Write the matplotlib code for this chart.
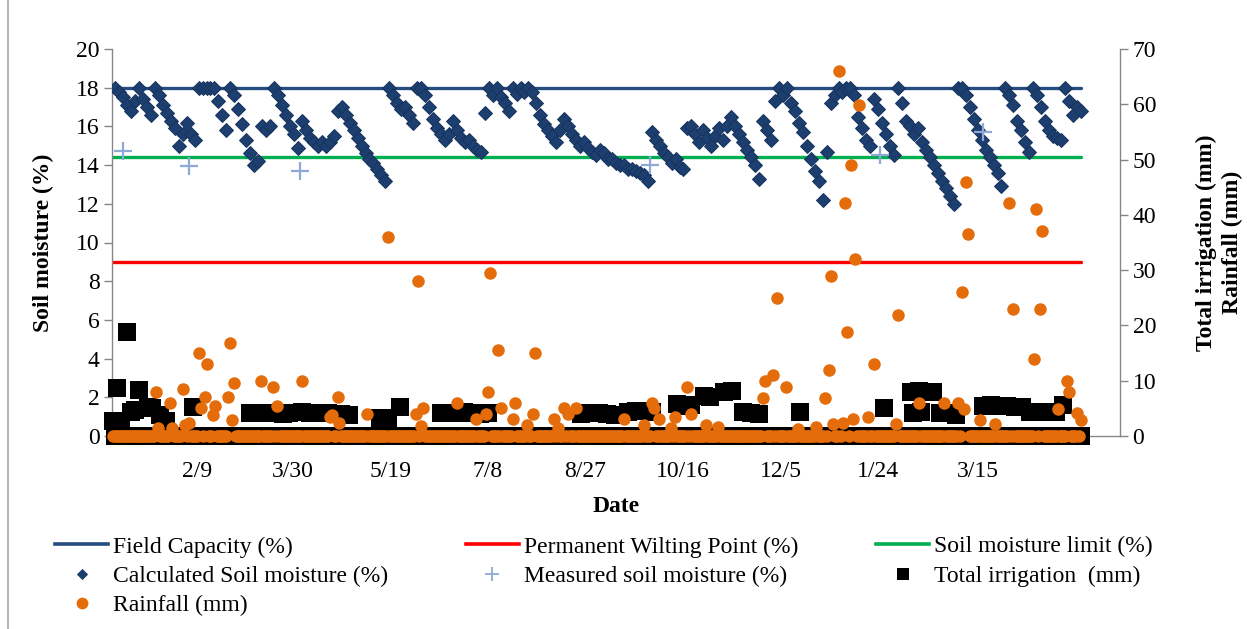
import numpy as np
import pandas as pd
import matplotlib
matplotlib.use("Agg")
import matplotlib.pyplot as plt
from matplotlib.lines import Line2D

plt.rcParams['font.family'] = ['Liberation Serif', 'DejaVu Serif']

# ---------------- data ----------------
sm_start = '2010-12-29'
sm_end = '2012-05-07'
soil_moisture = [
    18.0, 17.8, 17.5, 17.1, 16.8, 17.3, 18.0, 17.4, 17.0, 16.6,
    18.0, 17.6, 17.1, 16.7, 16.3, 15.9, 15.0, 15.6, 16.2, 15.6,
    15.3, 18.0, 18.0, 18.0, 18.0, 18.0, 17.3, 16.6, 15.8, 18.0,
    17.6, 16.9, 16.1, 15.3, 14.6, 14.0, 14.2, 16.0, 15.8, 16.0,
    18.0, 17.6, 17.1, 16.6, 16.0, 15.6, 14.9, 16.3, 15.8, 15.4,
    15.2, 15.0, 15.2, 15.0, 15.2, 15.5, 16.8, 17.0, 16.6, 16.2,
    15.8, 15.4, 15.0, 14.6, 14.3, 14.1, 13.8, 13.5, 13.2, 18.0,
    17.6, 17.2, 16.9, 17.0, 16.6, 16.2, 18.0, 18.0, 17.6, 17.0,
    16.4, 15.9, 15.6, 15.3, 15.6, 16.3, 15.8, 15.4, 15.2, 15.3,
    15.0, 14.8, 14.7, 16.7, 18.0, 17.6, 18.0, 17.5, 17.2, 16.8,
    18.0, 17.7, 18.0, 17.8, 18.0, 17.8, 17.2, 16.6, 16.1, 15.8,
    15.5, 15.2, 15.8, 16.4, 16.0, 15.6, 15.3, 15.0, 15.2, 14.9,
    14.7, 14.5, 14.8, 14.6, 14.3, 14.3, 14.1, 14.0, 14.0, 13.8,
    13.8, 13.7, 13.6, 13.5, 13.2, 15.7, 15.3, 15.0, 14.6, 14.4,
    14.1, 14.3, 13.9, 13.8, 15.9, 16.0, 15.6, 15.2, 15.8, 15.4,
    15.0, 15.5, 15.9, 15.3, 16.0, 16.5, 16.0, 15.6, 15.2, 14.8,
    14.4, 14.0, 13.3, 16.3, 15.8, 15.3, 17.3, 18.0, 17.6, 18.0,
    17.2, 16.8, 16.2, 15.7, 15.0, 14.3, 13.7, 13.2, 12.2, 14.7,
    17.2, 17.6, 18.0, 17.8, 18.0, 18.0, 17.6, 16.5, 15.9, 15.3,
    15.0, 17.4, 16.9, 16.2, 15.6, 15.0, 14.5, 18.0, 17.2, 16.3,
    16.0, 15.6, 15.9, 15.2, 14.8, 14.4, 14.0, 13.6, 13.2, 12.8,
    12.4, 12.0, 18.0, 18.0, 17.6, 17.0, 16.4, 15.8, 15.3, 14.8,
    14.4, 14.0, 13.6, 12.9, 18.0, 17.6, 17.1, 16.3, 15.8, 15.2,
    14.7, 18.0, 17.6, 17.0, 16.3, 15.8, 15.5, 15.4, 15.3, 18.0,
    17.3, 16.6, 17.0, 16.8,
]

line_dates = ['2010-12-28', '2012-05-07']
field_capacity = [18.0, 18.0]
wilting_point = [9.0, 9.0]
moisture_limit = [14.4, 14.4]

measured_dates = ['2011-01-02', '2011-02-05', '2011-04-03', '2011-09-29',
                  '2012-01-25', '2012-03-18']
measured_values = [14.75, 13.95, 13.7, 14.0, 14.5, 15.7]

rain_dates = [
    '2011-01-19', '2011-01-20', '2011-01-26', '2011-01-27', '2011-02-02',
    '2011-02-03', '2011-02-05', '2011-02-10', '2011-02-11', '2011-02-13',
    '2011-02-14', '2011-02-17', '2011-02-18', '2011-02-25', '2011-02-26',
    '2011-02-27', '2011-02-28', '2011-03-14', '2011-03-20', '2011-03-22',
    '2011-04-04', '2011-04-18', '2011-04-19', '2011-04-22', '2011-04-23',
    '2011-05-07', '2011-05-18', '2011-06-01', '2011-06-02', '2011-06-04',
    '2011-06-05', '2011-06-22', '2011-07-02', '2011-07-07', '2011-07-08',
    '2011-07-09', '2011-07-13', '2011-07-15', '2011-07-21', '2011-07-22',
    '2011-07-28', '2011-07-31', '2011-08-01', '2011-08-11', '2011-08-13',
    '2011-08-16', '2011-08-18', '2011-08-22', '2011-09-16', '2011-09-26',
    '2011-09-30', '2011-10-01', '2011-10-04', '2011-10-10', '2011-10-12',
    '2011-10-18', '2011-10-20', '2011-10-28', '2011-11-03', '2011-11-26',
    '2011-11-27', '2011-12-01', '2011-12-03', '2011-12-08', '2011-12-14',
    '2011-12-23', '2011-12-28', '2011-12-30', '2011-12-31', '2012-01-01',
    '2012-01-04', '2012-01-06', '2012-01-07', '2012-01-08', '2012-01-10',
    '2012-01-11', '2012-01-12', '2012-01-14', '2012-01-19', '2012-01-22',
    '2012-02-02', '2012-02-03', '2012-02-14', '2012-02-27', '2012-03-05',
    '2012-03-07', '2012-03-08', '2012-03-09', '2012-03-10', '2012-03-16',
    '2012-03-24', '2012-03-31', '2012-04-02', '2012-04-13', '2012-04-14',
    '2012-04-16', '2012-04-17', '2012-04-25', '2012-04-30', '2012-05-01',
    '2012-05-05', '2012-05-07',
]
rain_mm = [
    8.0, 1.4, 5.9, 1.4, 8.5,
    2.0, 2.4, 15.0, 5.0, 7.0,
    13.0, 3.8, 5.4, 7.0, 16.9,
    2.9, 9.5, 10.0, 8.9, 5.4,
    10.0, 3.4, 3.8, 7.0, 2.4,
    4.0, 36.0, 3.9, 28.0, 1.8,
    5.0, 5.9, 3.0, 3.9, 8.0,
    29.5, 15.6, 5.0, 3.0, 5.9,
    2.0, 4.0, 15.0, 3.1, 1.4,
    5.0, 4.0, 5.0, 3.0, 2.0,
    5.9, 5.0, 3.0, 1.4, 3.5,
    8.9, 4.0, 2.0, 1.7, 6.9,
    9.9, 11.0, 25.0, 8.9, 1.3,
    1.7, 6.9, 11.9, 29.0, 2.2,
    66.1, 2.3, 42.1, 18.9, 49.0,
    3.0, 32.1, 59.9, 3.5, 13.0,
    2.2, 21.9, 5.9, 5.9, 6.0,
    26.0, 4.9, 46.0, 36.5, 2.9,
    2.1, 42.1, 23.0, 14.0, 41.0,
    23.0, 37.0, 4.9, 10.0, 7.9,
    4.1, 2.9,
]

irr_dates = [
    '2010-12-28', '2010-12-30', '2011-01-01', '2011-01-04', '2011-01-06',
    '2011-01-08', '2011-01-10', '2011-01-15', '2011-01-17', '2011-01-21',
    '2011-01-24', '2011-02-07', '2011-03-08', '2011-03-12', '2011-03-16',
    '2011-03-20', '2011-03-25', '2011-03-28', '2011-04-04', '2011-04-08',
    '2011-04-13', '2011-04-17', '2011-04-24', '2011-04-28', '2011-05-14',
    '2011-05-18', '2011-05-24', '2011-06-14', '2011-06-18', '2011-06-22',
    '2011-06-26', '2011-06-30', '2011-07-04', '2011-07-08', '2011-08-25',
    '2011-08-29', '2011-09-03', '2011-09-07', '2011-09-11', '2011-09-18',
    '2011-09-22', '2011-09-26', '2011-09-30', '2011-10-13', '2011-10-17',
    '2011-10-20', '2011-10-27', '2011-10-30', '2011-11-06', '2011-11-10',
    '2011-11-16', '2011-11-20', '2011-11-24', '2011-12-15', '2012-01-27',
    '2012-02-10', '2012-02-11', '2012-02-14', '2012-02-15', '2012-02-18',
    '2012-02-21', '2012-02-25', '2012-02-29', '2012-03-04', '2012-03-18',
    '2012-03-22', '2012-03-26', '2012-03-30', '2012-04-03', '2012-04-07',
    '2012-04-11', '2012-04-20', '2012-04-24', '2012-04-28',
]
irr_mm = [
    2.8, 8.7, 2.8, 18.9, 4.3,
    4.7, 8.4, 5.2, 5.0, 3.8,
    2.8, 5.3, 4.2, 4.1, 4.2,
    4.2, 4.0, 4.2, 4.3, 4.2,
    4.2, 4.2, 3.9, 3.8, 3.2,
    3.3, 5.3, 4.2, 4.1, 4.2,
    4.3, 4.2, 4.0, 4.2, 4.0,
    4.2, 4.1, 4.0, 3.8, 4.4,
    4.5, 4.6, 4.4, 5.8, 5.5,
    5.6, 7.2, 7.0, 8.0, 8.2,
    4.3, 4.2, 4.0, 4.3, 5.0,
    8.0, 4.2, 8.2, 4.3, 8.0,
    8.0, 4.2, 4.1, 3.8, 5.4,
    5.6, 5.5, 5.5, 5.3, 5.2,
    4.4, 4.4, 4.3, 5.6,
]

record_start = '2010-12-28'
record_end = '2012-05-07'

tick_dates = ['2011-02-09', '2011-03-30', '2011-05-19', '2011-07-08', '2011-08-27',
              '2011-10-16', '2011-12-05', '2012-01-24', '2012-03-15']
tick_labels = ['2/9', '3/30', '5/19', '7/8', '8/27', '10/16', '12/5', '1/24', '3/15']

# ---------------- derived series ----------------
sm_dates = pd.date_range(sm_start, sm_end, periods=len(soil_moisture))
all_days = pd.date_range(record_start, record_end, freq='D')
rain_dt = pd.to_datetime(rain_dates)
irr_dt = pd.to_datetime(irr_dates)
rain_zero_days = all_days[~all_days.isin(rain_dt)]
irr_zero_days = all_days[~all_days.isin(irr_dt)]

# ---------------- styling ----------------
W, H = 1247, 629
FS = 17
GRAY = '#868686'
C_FC = '#264D80'
C_PWP = '#FF0000'
C_LIM = '#00B050'
C_SM = '#1D3F70'
C_SM_EDGE = '#16335D'
C_MEAS = '#8EA9D6'
C_RAIN = '#E46C0A'
C_IRR = '#000000'

fig = plt.figure(figsize=(W / 100, H / 100), dpi=100)
fig.patch.set_facecolor('white')

ax = fig.add_axes([112 / W, 1 - 436 / H, (1120 - 112) / W, (436 - 49) / H])
ax2 = ax.twinx()

ld = pd.to_datetime(line_dates)
ax.plot(ld, field_capacity, color=C_FC, lw=2.4, solid_capstyle='round', zorder=2)
ax.plot(ld, wilting_point, color=C_PWP, lw=2.4, solid_capstyle='round', zorder=2)
ax.plot(ld, moisture_limit, color=C_LIM, lw=2.4, solid_capstyle='round', zorder=2)
ax.plot(sm_dates, soil_moisture, linestyle='none', marker='D', ms=7.2,
        mfc=C_SM, mec=C_SM_EDGE, mew=0.7, zorder=3)
ax.plot(pd.to_datetime(measured_dates), measured_values, linestyle='none', marker='+',
        ms=13, mew=1.6, color=C_MEAS, zorder=4)

# secondary axis: irrigation and rainfall
ax2.plot(irr_zero_days, np.zeros(len(irr_zero_days)), linestyle='none', marker='s',
         ms=12.5, color=C_IRR, mew=0, clip_on=False, zorder=2)
ax2.plot(irr_dt, irr_mm, linestyle='none', marker='s', ms=12.5, color=C_IRR, mew=0,
         clip_on=False, zorder=2)
ax2.plot(rain_zero_days, np.zeros(len(rain_zero_days)), linestyle='none', marker='o',
         ms=9, color=C_RAIN, mew=0, clip_on=False, zorder=3)
ax2.plot(rain_dt, rain_mm, linestyle='none', marker='o', ms=9, color=C_RAIN, mew=0,
         clip_on=False, zorder=3)

# axes limits
ax.set_xlim(pd.Timestamp('2010-12-27 10:00'), pd.Timestamp('2012-05-27'))
ax.set_ylim(0, 20)
ax2.set_ylim(0, 70)
ax.set_yticks(np.arange(0, 21, 2))
ax2.set_yticks(np.arange(0, 71, 10))
ax.set_xticks(pd.to_datetime(tick_dates))
ax.set_xticklabels(tick_labels)

for a in (ax, ax2):
    for s in a.spines.values():
        s.set_color(GRAY)
        s.set_linewidth(1.0)
    a.spines['top'].set_visible(False)
ax.spines['right'].set_visible(False)
ax2.spines['left'].set_visible(False)
ax2.spines['bottom'].set_visible(False)

ax.tick_params(axis='y', direction='out', length=6, width=1, color=GRAY,
               labelsize=FS, pad=3)
ax.tick_params(axis='x', length=0, labelsize=FS, pad=18)
ax2.tick_params(axis='y', direction='out', length=6, width=1, color=GRAY,
                labelsize=FS, pad=3)

ax.set_xlabel('Date', fontsize=FS, fontweight='bold', labelpad=10)
ax.set_ylabel('Soil moisture (%)', fontsize=FS, fontweight='bold')
ax.yaxis.label.set_va('center')
ax.yaxis.label.set_ha('center')
ax.yaxis.set_label_coords((43 - 112) / (1120 - 112), 0.5)
ax2.set_ylabel('Total irrigation (mm)\nRainfall (mm)', fontsize=FS, fontweight='bold',
               multialignment='center', linespacing=1.3)
ax2.yaxis.label.set_va('center')
ax2.yaxis.label.set_ha('center')
ax2.yaxis.set_label_coords((1219 - 112) / (1120 - 112), 0.5)

# legend (column-wise ordering to reproduce the row-wise layout)
h_fc = Line2D([], [], color=C_FC, lw=2.6)
h_pwp = Line2D([], [], color=C_PWP, lw=2.6)
h_lim = Line2D([], [], color=C_LIM, lw=2.6)
h_sm = Line2D([], [], linestyle='none', marker='D', ms=5.2, mfc=C_SM, mec=C_SM_EDGE, mew=0.6)
h_meas = Line2D([], [], linestyle='none', marker='+', ms=10, mew=1.3, color=C_MEAS)
h_irr = Line2D([], [], linestyle='none', marker='s', ms=9, color=C_IRR, mew=0)
h_rain = Line2D([], [], linestyle='none', marker='o', ms=8.5, color=C_RAIN, mew=0)
handles = [h_fc, h_sm, h_rain, h_pwp, h_meas, h_lim, h_irr]
labels = ['Field Capacity (%)', 'Calculated Soil moisture (%)', 'Rainfall (mm)',
          'Permanent Wilting Point (%)', 'Measured soil moisture (%)',
          'Soil moisture limit (%)', 'Total irrigation  (mm)']
fig.legend(handles, labels, ncol=3, loc='upper left',
           bbox_to_anchor=(55 / W, 1 - 536 / H), frameon=False, fontsize=FS,
           borderpad=0, borderaxespad=0, handlelength=2.25, handletextpad=0.2,
           columnspacing=3.3, labelspacing=0.33)

# chart-area border on the left
fig.add_artist(Line2D([8 / W, 8 / W], [0, 1], color='#A6A6A6', lw=1.2))

fig.savefig('out.png', dpi=100)
